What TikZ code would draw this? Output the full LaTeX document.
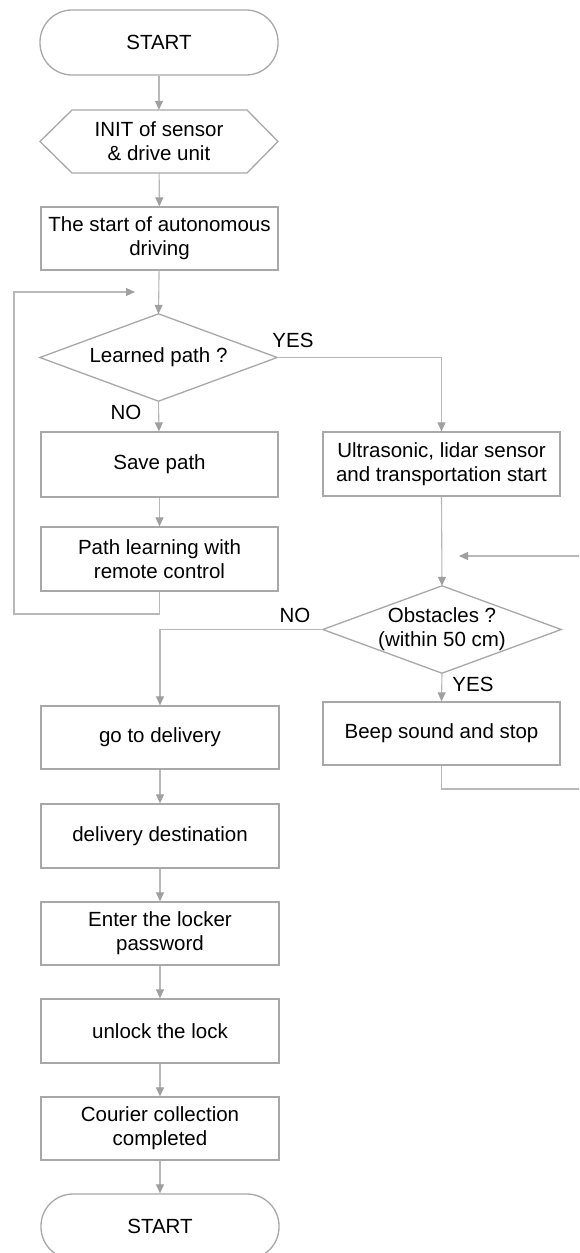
\documentclass[tikz,border=0pt]{standalone}
\usepackage{fontspec}
\setmainfont{Liberation Sans}
\usetikzlibrary{arrows.meta}
\definecolor{boxgray}{RGB}{168,168,168}
\definecolor{linegray}{RGB}{184,184,184}
\definecolor{tipgray}{RGB}{160,160,160}
\newcommand{\fsz}{\fontsize{20.5pt}{24pt}\selectfont}
\begin{document}
\begin{tikzpicture}[x=1pt,y=-1pt,
  every node/.style={font=\fsz, text=black},
  box/.style={draw=boxgray, line width=1.3pt, minimum width=237pt, minimum height=64pt, align=center, inner sep=2pt},
  term/.style={box, rounded corners=32pt, minimum width=238pt, minimum height=65pt},
  textonly/.style={minimum width=237pt, minimum height=#1, align=center, inner sep=0pt},
  outline/.style={draw=boxgray, line width=1.3pt, line join=miter},
  conn/.style={draw=linegray, line width=1.1pt, -{Triangle[width=8pt,length=9pt,color=tipgray]}},
  plainconn/.style={draw=linegray, line width=1.1pt},
  lab/.style={inner sep=0pt}
]
\useasboundingbox (0,0) rectangle (579,1253);
\clip (0,0) rectangle (579,1253);
\fill[white] (0,0) rectangle (579,1253);

% nodes
\node[term] (start) at (159,42.5) {START};
\node[textonly=63pt] (init) at (159,141.5) {INIT of sensor\\\& drive unit};
\draw[outline] (40,141.5) -- (72,110) -- (247,110) -- (278,141.5) -- (247,173) -- (72,173) -- cycle;
\node[box, minimum height=63pt] (auto) at (159.5,238.5) {The start of autonomous\\driving};
\node[textonly=87pt] (q1) at (158.5,357.5) {Learned path ?};
\draw[outline] (q1.west) -- (q1.north) -- (q1.east) -- (q1.south) -- cycle;
\node[box, minimum height=65pt] (save) at (159.5,464.5) {Save path};
\node[box] (learn) at (159.5,559) {Path learning with\\remote control};
\node[box] (ultra) at (441.5,464) {Ultrasonic, lidar sensor\\and transportation start};
\node[textonly=87pt, minimum width=238pt] (q2) at (442,629.5) {Obstacles ?\\(within 50 cm)};
\draw[outline] (q2.west) -- (q2.north) -- (q2.east) -- (q2.south) -- cycle;
\node[box, minimum height=63pt] (beep) at (441.5,733.5) {Beep sound and stop};
\node[box, minimum width=238pt, minimum height=63pt] (go) at (160,737.5) {go to delivery};
\node[box, minimum width=238pt] (dest) at (160,836) {delivery destination};
\node[box, minimum width=238pt, minimum height=63pt] (enter) at (160,933.5) {Enter the locker\\password};
\node[box, minimum width=238pt] (unlock) at (160,1031) {unlock the lock};
\node[box, minimum width=238pt, minimum height=63pt] (courier) at (160,1128.5) {Courier collection\\completed};
\node[term] (end) at (160,1226.5) {START};

% labels
\node[lab] (yes1) at (293,340) {YES};
\node[lab] (no1) at (126,412) {NO};
\node[lab] (no2) at (295,615) {NO};
\node[lab] (yes2) at (473,684) {YES};

% loop coordinates
\coordinate (lB) at (14,614);
\coordinate (lT) at (14,292);
\coordinate (lTip) at (135,292);
\coordinate (rB) at (583,789);
\coordinate (rT) at (583,556);
\coordinate (rTip) at (459,556);

% connectors
\draw[conn] (start) -- (init);
\draw[conn] (init) -- (auto);
\draw[conn] (auto) -- (q1.north);
\draw[conn] (q1.south) -- (save);
\draw[conn] (save) -- (learn);
\draw[conn] (learn.south) -- (learn.south |- lB) -- (lB) -- (lT) -- (lTip);
\draw[conn] (q1.east) -| (ultra.north);
\draw[conn] (ultra.south) -- (q2.north);
\draw[conn] (q2.south) -- (beep.north);
\draw[conn] (beep.south) -- (beep.south |- rB) -- (rB) -- (rT) -- (rTip);
\draw[conn] (q2.west) -| (go.north);
\draw[conn] (go) -- (dest);
\draw[conn] (dest) -- (enter);
\draw[conn] (enter) -- (unlock);
\draw[conn] (unlock) -- (courier);
\draw[conn] (courier) -- (end);
\end{tikzpicture}
\end{document}
